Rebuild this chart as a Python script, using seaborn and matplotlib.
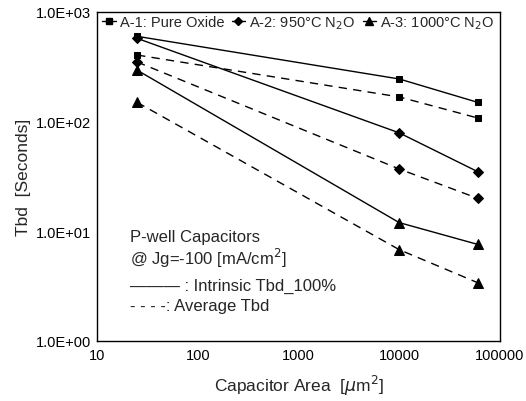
import matplotlib
matplotlib.use("Agg")
import matplotlib.pyplot as plt
import matplotlib.ticker as mticker
from matplotlib.lines import Line2D
import seaborn as sns
import pandas as pd

areas = [25, 10000, 60000]
a1_intrinsic = [600, 245, 150]
a1_average = [405, 168, 108]
a2_intrinsic = [575, 79, 35]
a2_average = [350, 37, 20]
a3_intrinsic = [295, 12, 7.6]
a3_average = [150, 6.8, 3.4]

series_names = ["A-1: Pure Oxide", "A-2: 950°C N$_2$O", "A-3: 1000°C N$_2$O"]
markers = {"A-1: Pure Oxide": "s", "A-2: 950°C N$_2$O": "D", "A-3: 1000°C N$_2$O": "^"}
msize = {"A-1: Pure Oxide": 5, "A-2: 950°C N$_2$O": 5, "A-3: 1000°C N$_2$O": 7}

rows = []
for name, intr, avg in zip(series_names,
                           [a1_intrinsic, a2_intrinsic, a3_intrinsic],
                           [a1_average, a2_average, a3_average]):
    for a, v in zip(areas, intr):
        rows.append(dict(area=a, tbd=v, sample=name, kind="intrinsic"))
    for a, v in zip(areas, avg):
        rows.append(dict(area=a, tbd=v, sample=name, kind="average"))
df = pd.DataFrame(rows)

sns.set_style("white")
plt.rcParams["font.family"] = ["Liberation Sans", "DejaVu Sans"]

fig = plt.figure(figsize=(5.26, 4.02), dpi=100)
ax = fig.add_axes([0.1844, 0.1493, 0.7662, 0.8184])

for name in series_names:
    for kind, ls in [("intrinsic", "-"), ("average", (0, (6, 4.5)))]:
        sub = df[(df["sample"] == name) & (df["kind"] == kind)]
        sns.lineplot(data=sub, x="area", y="tbd", ax=ax, color="black",
                     linewidth=1.0, linestyle=ls, marker=markers[name],
                     markersize=msize[name], markeredgecolor="black",
                     legend=False)

ax.set_xscale("log")
ax.set_yscale("log")
ax.set_xlim(10, 100000)
ax.set_ylim(1, 1000)
ax.xaxis.set_major_locator(mticker.FixedLocator([10, 100, 1000, 10000, 100000]))
ax.xaxis.set_major_formatter(mticker.FixedFormatter(["10", "100", "1000", "10000", "100000"]))
ax.xaxis.set_minor_locator(mticker.NullLocator())
ax.yaxis.set_major_locator(mticker.FixedLocator([1, 10, 100, 1000]))
ax.yaxis.set_major_formatter(mticker.FixedFormatter(["1.0E+00", "1.0E+01", "1.0E+02", "1.0E+03"]))
ax.yaxis.set_minor_locator(mticker.NullLocator())
ax.tick_params(axis="both", direction="in", length=4, width=0.8, labelsize=10.5, colors="black")
ax.tick_params(axis="x", pad=5)
ax.tick_params(axis="y", pad=4)
for s in ax.spines.values():
    s.set_color("black")
    s.set_linewidth(1.0)

ax.set_xlabel("Capacitor Area  [$\\mu$m$^2$]", fontsize=12.5, labelpad=8)
ax.set_ylabel("Tbd  [Seconds]", fontsize=12.5, labelpad=4)

handles = [Line2D([0], [0], color="black", marker=markers[n], markersize=msize[n] - 1,
                  linewidth=1.0) for n in series_names]
ax.legend(handles, series_names, loc="upper center", ncol=3, frameon=False,
          fontsize=10.5, handlelength=0.9, handletextpad=0.3, columnspacing=0.5,
          borderaxespad=0.1, bbox_to_anchor=(0.5, 1.015))

ax.text(0.083, 0.305, "P-well Capacitors", transform=ax.transAxes, fontsize=12)
ax.text(0.083, 0.235, "@ Jg=-100 [mA/cm$^2$]", transform=ax.transAxes, fontsize=12)
ax.text(0.083, 0.155, "——— : Intrinsic Tbd_100%", transform=ax.transAxes, fontsize=12)
ax.text(0.083, 0.095, "- - - -: Average Tbd", transform=ax.transAxes, fontsize=12)

fig.savefig("out.png", dpi=100)
